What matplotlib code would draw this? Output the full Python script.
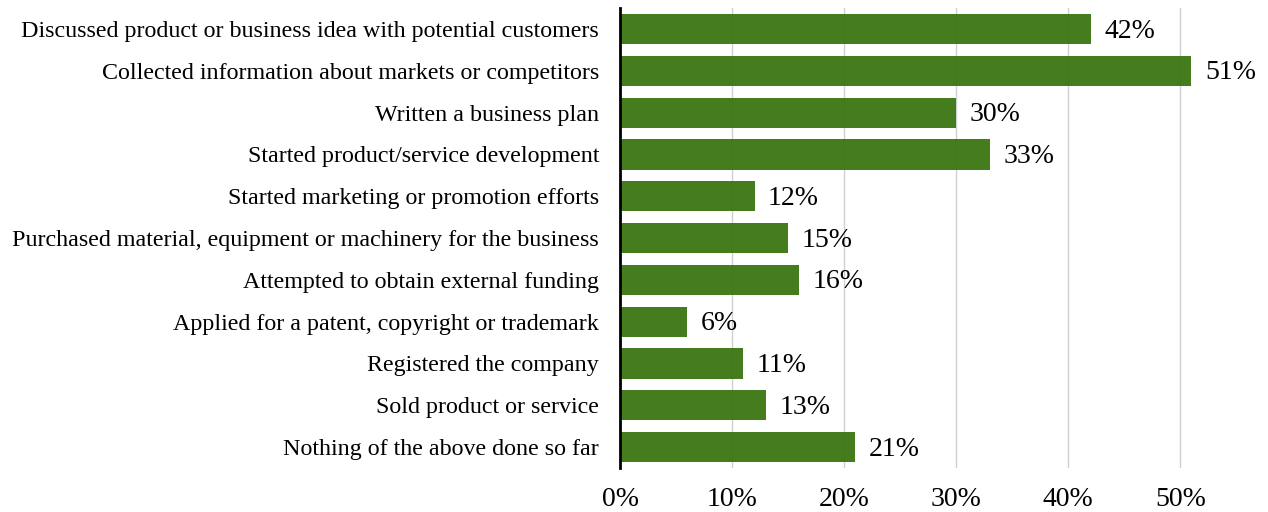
import matplotlib
matplotlib.use("Agg")
from matplotlib import pyplot as plt

activities = [
    "Discussed product or business idea with potential customers",
    "Collected information about markets or competitors",
    "Written a business plan",
    "Started product/service development",
    "Started marketing or promotion efforts",
    "Purchased material, equipment or machinery for the business",
    "Attempted to obtain external funding",
    "Applied for a patent, copyright or trademark",
    "Registered the company",
    "Sold product or service",
    "Nothing of the above done so far",
]
shares = [42, 51, 30, 33, 12, 15, 16, 6, 11, 13, 21]
ticks = [0, 10, 20, 30, 40, 50]

plt.rcParams["font.family"] = ["Liberation Serif", "DejaVu Serif"]

fig = plt.figure(figsize=(12.68, 5.12), dpi=100)
ax = fig.add_axes([0.489, 0.086, 0.486, 0.898])

ypos = list(range(len(activities)))
ax.barh(ypos, shares, height=0.72, color="#3a7512", alpha=0.95, zorder=2)
for y, v in zip(ypos, shares):
    ax.text(v + 1.2, y + 0.05, f"{v}%", va="center", ha="left", fontsize=20, color="black")

ax.set_yticks(ypos)
ax.set_yticklabels(activities, fontsize=17.3)
ax.set_ylim(len(activities) - 0.5, -0.5)
ax.set_xlim(0, 55)
ax.set_xticks(ticks)
ax.set_xticklabels([f"{t}%" for t in ticks], fontsize=20)
ax.tick_params(axis="both", length=0)
ax.tick_params(axis="x", pad=14)
ax.tick_params(axis="y", pad=15)

ax.grid(axis="x", color="#d0d0d0", linewidth=1, zorder=1)
ax.set_axisbelow(True)
for side in ["top", "right", "bottom"]:
    ax.spines[side].set_visible(False)
ax.spines["left"].set_linewidth(2)
ax.spines["left"].set_color("black")
ax.spines["left"].set_zorder(3)

fig.savefig("out.png", dpi=100)
